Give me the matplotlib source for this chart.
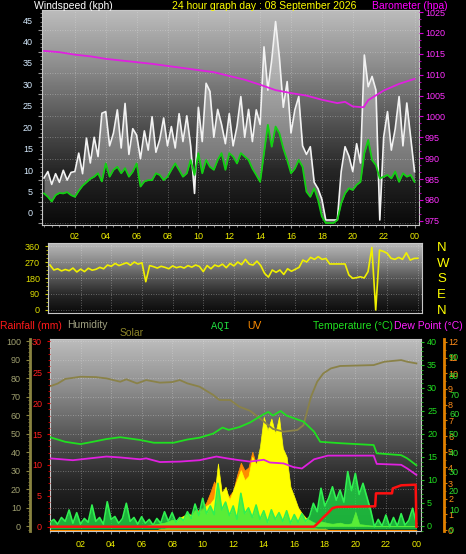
import numpy as np
import matplotlib.pyplot as plt
import matplotlib.transforms as mtransforms
from matplotlib.colors import LinearSegmentedColormap
from matplotlib.ticker import MultipleLocator

plt.rcParams['font.family'] = ['Liberation Sans', 'DejaVu Sans']

# ---- values ----
t15 = np.linspace(0, 24, 97)   # 15 minute steps through the day

wind_gust = [10.5, 12.0, 9.0, 11.5,  9.5, 12.3, 10.0, 11.8,  12.0, 16.3, 11.5, 19.8,
             14.0, 20.0, 15.5, 25.6,  26.0, 18.0, 21.0, 26.4,  17.5, 27.9, 16.0, 22.0,
             20.5, 15.0, 21.5, 17.0,  24.8, 16.5, 19.5, 24.5,  18.0, 22.5, 17.5, 25.5,
             19.0, 25.0, 18.0, 6.9,  27.0, 19.0, 32.6, 30.7,  20.0, 26.5, 23.0, 18.5,
             25.5, 18.0, 22.5, 29.5,  20.0, 26.5, 19.0, 26.4,  23.0, 41.1, 31.0, 38.0,
             47.0, 38.5, 27.0, 33.0,  21.0, 26.4, 29.5, 18.0,  16.0, 17.8, 9.5, 8.0,
             5.5, 0.7, 0.7, 0.7,  0.7, 12.0, 17.8, 15.6,  12.0, 18.5, 14.0, 39.2,
             31.8, 34.2, 31.0, 0.7,  20.0, 26.0, 17.0, 22.0,  29.5, 18.0, 28.0, 20.0,
             12.0]
wind_avg = [6.9, 6.1, 5.0, 6.5,  7.0, 6.9, 7.2, 6.5,  6.1, 7.5, 8.7, 9.5,
            10.3, 10.8, 11.6, 9.7,  13.9, 10.8, 12.4, 13.1,  11.6, 12.8, 10.8, 12.0,
            13.9, 8.5, 9.7, 10.0,  10.0, 11.6, 11.2, 10.0,  10.8, 12.4, 13.9, 12.4,
            10.8, 11.6, 14.7, 11.2,  16.3, 11.6, 14.7, 13.1,  12.4, 14.7, 16.3, 12.4,
            16.3, 15.5, 13.9, 16.3,  15.5, 14.7, 12.7, 11.2,  9.6, 16.3, 22.9, 17.8,
            22.5, 20.9, 17.4, 14.7,  11.6, 12.7, 14.7, 13.1,  7.3, 6.1, 8.1, 5.4,
            1.5, 0.0, 0.0, 0.0,  0.7, 4.6, 6.9, 8.1,  7.7, 8.9, 9.6, 16.3,
            19.4, 14.7, 13.5, 10.4,  10.8, 11.2, 10.4, 12.0,  9.6, 11.6, 10.8, 11.2,
            9.6]

baro_h = [0, 1, 2, 3, 4, 5, 6, 7, 8, 9, 10, 11, 12, 13, 14, 15, 16, 17, 18, 19,
          19.5, 20, 20.7, 21, 22, 23, 24]
baro = [1015.7, 1015.4, 1014.8, 1014.4, 1013.8, 1013.4, 1013.0, 1012.6, 1012.1,
        1011.6, 1011.1, 1010.6, 1009.7, 1008.8, 1007.6, 1006.3, 1005.6, 1005.0,
        1004.0, 1003.2, 1003.5, 1002.4, 1002.2, 1003.9, 1006.2, 1007.8, 1009.0]

wind_dir = [253, 225, 232, 220,  228, 221, 236, 214,  230, 216, 235, 224,
            229, 240, 232, 253,  246, 262, 250, 258,  266, 252, 270, 258,
            266, 159, 250, 244,  236, 246, 240, 232,  248, 238, 244, 236,
            250, 241, 253, 245,  216, 250, 232, 253,  245, 258, 238, 262,
            248, 270, 255, 285,  258, 253, 275, 250,  206, 185, 225, 212,
            225, 200, 232, 218,  229, 240, 281, 270,  296, 285, 300, 285,
            290, 259, 259, 259,  259, 259, 197, 178,  182, 187, 180, 216,
            352, 0, 337, 330,  319, 291, 285, 296,  285, 322, 281, 290,
            291]

hum_h = [0, 0.5, 1, 2, 3, 3.7, 4.6, 5, 5.7, 6.3, 7.2, 8, 8.5, 9, 9.8, 10.7, 11.1,
         11.8, 12.4, 13.1, 13.8, 14.6, 15.3, 16.2, 16.6, 17.1, 17.5, 17.9, 18.4, 19,
         21.2, 21.9, 23, 23.4, 24]
hum = [75.5, 77.0, 79.5, 80.7, 80.5, 79.8, 78.0, 79.3, 77.1, 78.9, 77.5, 77.8, 78.9,
       77.1, 75.3, 70.8, 68.1, 68.1, 64.5, 62.3, 57.8, 52.5, 51.0, 51.9, 54.5, 70.0,
       78.0, 82.5, 85.2, 86.5, 87.0, 88.8, 89.7, 88.8, 87.9]

temp_h = [0, 1, 2, 2.8, 3.7, 4.6, 5.9, 6.8, 8.1, 9, 9.8, 10.7, 11.3, 11.7, 12.4, 13.1,
          14.0, 14.3, 14.6, 15.1, 15.5, 16.0, 16.6, 17.3, 17.7, 19.0, 21.2, 21.4, 23.0,
          23.4, 24]
temp = [19.3, 18.3, 17.8, 18.3, 18.9, 19.3, 18.7, 18.1, 18.1, 18.8, 19.2, 20.1, 21.4,
        20.9, 21.5, 22.5, 24.3, 24.8, 24.0, 25.0, 24.0, 23.4, 22.7, 20.5, 18.3, 18.0,
        17.6, 15.8, 15.4, 14.7, 13.2]

dew_h = [0, 1.5, 3.7, 4.6, 5.9, 6.3, 7.2, 8.5, 9.8, 10.9, 11.6, 12.4, 13.1, 14.0, 14.4,
         15.3, 15.95, 16.5, 17.3, 18.2, 21.2, 21.4, 23.0, 23.4, 24]
dew = [14.7, 14.3, 15.1, 14.9, 14.5, 14.7, 13.9, 14.0, 14.3, 15.1, 14.7, 14.3, 14.0,
       14.4, 13.8, 13.6, 12.8, 12.5, 14.5, 15.3, 15.3, 13.5, 13.3, 12.5, 11.1]

rain_h = [0, 17.3, 17.6, 17.9, 18.2, 18.5, 18.8, 21.3, 21.35, 22.4, 22.45, 23.0, 23.95, 24.0]
rain = [0, 0, 0.7, 1.5, 2.2, 3.0, 3.2, 3.3, 5.4, 5.4, 6.2, 6.7, 6.8, 0]

aqi = [3.5, 5.0, 2.5, 6.0,  4.0, 9.9, 3.0, 8.5,  2.5, 5.5, 3.5, 12.5,
       4.0, 6.0, 2.5, 14.2,  5.0, 6.5, 3.0, 5.5,  13.4, 4.0, 6.0, 2.5,
       6.4, 3.0, 5.0, 2.0,  5.5, 3.0, 9.0, 4.0,  8.5, 3.5, 6.0, 4.5,
       9.0, 5.5, 13.0, 7.0,  16.0, 8.0, 12.0, 7.5,  23.8, 10.0, 14.0, 7.0,
       12.0, 5.0, 18.6, 8.0,  11.0, 6.0, 12.5, 5.0,  9.5, 3.5, 10.0, 5.0,
       8.5, 4.0, 9.5, 3.0,  7.5, 3.5, 8.0, 4.0,  6.5, 13.4, 9.0, 21.2,
       12.0, 16.0, 22.0, 15.0,  20.3, 14.0, 29.9, 20.0,  29.0, 18.0, 23.8, 16.8,
       9.9, 1.2, 5.0, 1.5,  7.3, 1.2, 6.0, 1.5,  8.0, 2.0, 4.5, 10.8,
       3.0]

solar = [0] * 24 + [0, 0, 5, 8,  10, 15, 18, 25,  35, 30, 45, 55,  68, 60, 86, 75,
                    90, 110, 122, 150,  338, 180, 212, 140,  194, 250, 302, 248,
                    270, 374, 330, 428,  590, 518, 581, 500,  590, 420, 374, 212,
                    158, 100, 68, 45,  32, 20, 14, 25,  20, 15, 12, 15,
                    18, 12, 10, 15,  77, 10, 8, 5,  3, 2, 0, 0] + [0] * 9

uv = [0] * 28 + [0, 0.1, 0.1, 0.2,  0.3, 0.4, 0.5, 0.6,  0.8, 0.9, 1.1, 1.3,
                 1.4, 1.8, 2.4, 3.1,  2.6, 2.0, 1.8, 2.2,  2.5, 3.5, 4.3, 3.8,
                 4.0, 5.0, 4.2, 4.8,  4.5, 4.0, 4.4, 4.2,  4.0, 3.5, 2.2, 1.6,
                 1.3, 0.9, 0.6, 0.4,  0.3, 0.2, 0.1, 0.1,  0.1, 0, 0, 0] + [0] * 21

hour_ticks = [2, 4, 6, 8, 10, 12, 14, 16, 18, 20, 22, 24]
hour_labels = ['02', '04', '06', '08', '10', '12', '14', '16', '18', '20', '22', '00']
compass_deg = [0, 90, 180, 270, 360]
compass_lbl = ['N', 'E', 'S', 'W', 'N']

# ---- figure ----
W, H = 466, 554
fig = plt.figure(figsize=(W / 100, H / 100), dpi=100, facecolor='black')


def box(l, t, r, b):
    return [l / W, 1 - b / H, (r - l) / W, (b - t) / H]


bg = LinearSegmentedColormap.from_list(
    'bg', ['#0a0a0a', '#262626', '#575757', '#8e8e8e', '#bcbcbc'])
grid_kw = dict(color='#e6e6e6', linestyle=(0, (1, 2)), linewidth=0.6, alpha=0.45)


def backdrop(ax):
    grad = np.linspace(0, 1, 200).reshape(-1, 1)
    ax.imshow(grad, extent=[0, 1, 0, 1], transform=ax.transAxes, origin='lower',
              cmap=bg, aspect='auto', zorder=0)
    ax.set_facecolor('black')
    for s in ax.spines.values():
        s.set_color('#c8c8c8')
        s.set_linewidth(0.8)


def twin(ax):
    t = ax.twinx()
    for s in t.spines.values():
        s.set_visible(False)
    return t


# top panel: wind speed + barometer
ax_w = fig.add_axes(box(42, 10, 419, 225))
backdrop(ax_w)
ax_w.fill_between(t15, wind_avg, wind_gust, color='white', alpha=0.35, lw=0, zorder=2)
ax_w.plot(t15, wind_gust, color='#f2f2f2', lw=1.2, zorder=3)
ax_w.plot(t15, wind_avg, color='#12d012', lw=1.3, zorder=4)
ax_w.set_xlim(-0.13, 24.29)
ax_w.set_ylim(-0.47, 49.7)
ax_w.set_xticks(hour_ticks)
ax_w.set_xticklabels(hour_labels)
ax_w.xaxis.set_minor_locator(MultipleLocator(0.5))
ax_w.set_yticks(range(0, 46, 5))
ax_w.yaxis.set_minor_locator(MultipleLocator(1))
ax_w.grid(True, which='major', **grid_kw)

ax_b = twin(ax_w)
ax_b.plot(baro_h, baro, color='#e020e0', lw=1.3)
ax_b.set_ylim(974.0, 1025.5)
ax_b.set_yticks(range(975, 1026, 5))
ax_b.yaxis.set_minor_locator(MultipleLocator(5 / 3))
ax_b.tick_params(axis='y', which='both', colors='#d000d0', labelcolor='#ff30ff',
                 labelsize=6.5, length=2.9, pad=1.4)
ax_b.tick_params(axis='y', which='minor', length=1.5)

ax_w.tick_params(axis='x', which='both', colors='#909090', labelcolor='#f0f000',
                 labelsize=6.5, length=2.2, pad=2.9)
ax_w.tick_params(axis='x', which='minor', length=1.5)
ax_w.tick_params(axis='y', which='both', colors='#909090', labelcolor='#d6ebff',
                 labelsize=6.5, length=2.9, pad=3.6)
ax_w.tick_params(axis='y', which='minor', length=1.5)
shift = mtransforms.ScaledTranslation(0, 0.10, fig.dpi_scale_trans)
for lbl in ax_w.get_yticklabels():
    lbl.set_transform(lbl.get_transform() + shift)

# middle panel: wind direction
ax_d = fig.add_axes(box(48, 243, 422, 313))
backdrop(ax_d)
ax_d.plot(t15, wind_dir, color='#f0f000', lw=1.2, zorder=3)
ax_d.set_xlim(-0.13, 24.27)
ax_d.set_ylim(-17, 377)
ax_d.set_xticks(hour_ticks)
ax_d.tick_params(axis='x', labelbottom=False, length=0)
ax_d.set_yticks(compass_deg)
ax_d.yaxis.set_minor_locator(MultipleLocator(22.5))
ax_d.grid(True, which='major', **grid_kw)

ax_c = twin(ax_d)
ax_c.set_ylim(-17, 377)
ax_c.set_yticks(compass_deg)
ax_c.set_yticklabels(compass_lbl)
ax_c.tick_params(axis='y', length=0, pad=10.8, labelsize=9.5, labelcolor='#ffff00')
ax_d.tick_params(axis='y', which='both', colors='#c8c800', labelcolor='#e0e000',
                 labelsize=6.5, length=2.2, pad=3.6)
ax_d.tick_params(axis='y', which='minor', length=1.5)

# bottom panel: rain, humidity, solar, AQI, UV, temperature, dew point
ax_bg = fig.add_axes(box(50, 339, 421, 531))
backdrop(ax_bg)
ax_bg.set_xlim(0, 24.3)
ax_bg.set_ylim(-2.7, 101.1)
ax_bg.set_yticks(range(0, 101, 10))
ax_bg.set_xticks(hour_ticks)
ax_bg.set_xticklabels(hour_labels)
ax_bg.xaxis.set_minor_locator(MultipleLocator(0.5))
ax_bg.grid(True, which='major', **grid_kw)

ax_uv = twin(ax_bg)
ax_uv.fill_between(t15, uv, color='#ff8c00', lw=0.5)
ax_uv.set_ylim(-0.06, 12.19)
ax_uv.spines['right'].set_visible(True)
ax_uv.spines['right'].set_position(('outward', 16.6))
ax_uv.spines['right'].set_color('#e08000')
ax_uv.spines['right'].set_linewidth(2)
ax_uv.set_yticks(range(13))
ax_uv.yaxis.set_minor_locator(MultipleLocator(0.5))
ax_uv.tick_params(axis='y', which='both', colors='#e08000', labelcolor='#ff8c1a',
                  labelsize=6.5, length=2.2, pad=0.7)
ax_uv.tick_params(axis='y', which='minor', length=1.2)

ax_sol = twin(ax_bg)
ax_sol.fill_between(t15, solar, color='#ffff00', lw=0.5)
ax_sol.set_ylim(-27, 1011)
ax_sol.set_yticks([])

ax_aqi = twin(ax_bg)
ax_aqi.fill_between(t15, aqi, color='#22e84a', alpha=0.75, lw=0)
ax_aqi.plot(t15, aqi, color='#30f050', lw=1.2)
ax_aqi.set_ylim(-1.04, 98.96)
ax_aqi.spines['right'].set_position(('outward', 16.6))
ax_aqi.set_yticks(range(0, 91, 10))
ax_aqi.tick_params(axis='y', length=0, pad=3.6, labelsize=6.5, labelcolor='#30e030')

ax_hum = twin(ax_bg)
ax_hum.plot(hum_h, hum, color='#8a8248', lw=1.3)
ax_hum.set_ylim(-2.7, 101.1)
ax_hum.yaxis.set_ticks_position('left')
ax_hum.spines['left'].set_visible(True)
ax_hum.spines['left'].set_position(('outward', 14.4))
ax_hum.spines['left'].set_color('#8a8440')
ax_hum.spines['left'].set_linewidth(2)
ax_hum.set_yticks(range(0, 101, 10))
ax_hum.yaxis.set_minor_locator(MultipleLocator(2))
ax_hum.tick_params(axis='y', which='both', colors='#8a8440', labelcolor='#a0a070',
                   labelsize=6.5, length=2.9, pad=3.6)
ax_hum.tick_params(axis='y', which='minor', length=1.5)

ax_tmp = twin(ax_bg)
ax_tmp.plot(temp_h, temp, color='#20e020', lw=1.3)
ax_tmp.plot(dew_h, dew, color='#e020e0', lw=1.3)
ax_tmp.set_ylim(-1.09, 40.65)
ax_tmp.set_yticks(range(0, 41, 5))
ax_tmp.yaxis.set_minor_locator(MultipleLocator(1))
ax_tmp.tick_params(axis='y', which='both', colors='#20c020', labelcolor='#20e020',
                   labelsize=6.5, length=2.2, pad=2.2)
ax_tmp.tick_params(axis='y', which='minor', length=1.2)

ax_rain = twin(ax_bg)
ax_rain.plot(rain_h, rain, color='#ff1010', lw=1.8)
ax_rain.set_ylim(-0.7, 30.4)
ax_rain.yaxis.set_ticks_position('left')
ax_rain.set_yticks(range(0, 31, 5))
ax_rain.yaxis.set_minor_locator(MultipleLocator(1))
ax_rain.tick_params(axis='y', which='both', colors='#e00000', labelcolor='#ff2020',
                    labelsize=6.5, length=2.5, pad=3.2)
ax_rain.tick_params(axis='y', which='minor', length=1.2)

ax_bg.tick_params(axis='y', left=False, labelleft=False, right=False, labelright=False)
ax_bg.tick_params(axis='x', which='both', colors='#909090', labelcolor='#f0f000',
                  labelsize=6.5, length=2.2, pad=4.3)
ax_bg.tick_params(axis='x', which='minor', length=1.5)

# titles and legend texts
def label(x, y, s, c, **kw):
    fig.text(x / W, 1 - y / H, s, color=c, fontsize=7.5, va='center', ha='left', **kw)


label(34, 6, 'Windspeed (kph)', 'white')
label(172, 6, '24 hour graph day : 08 September 2026', '#ffff00')
label(372, 6, 'Barometer (hpa)', '#ff00ff')
label(0, 326, 'Rainfall (mm)', '#ff1a1a')
label(67, 325, 'Humidity', '#a0a080')
label(120, 333, 'Solar', '#8c8428')
label(211, 326, 'AQI', '#20e040', family='Liberation Mono')
label(247, 326, 'UV', '#ff8c00')
label(313, 326, 'Temperature (°C)', '#20e020')
label(394, 326, 'Dew Point (°C)', '#ff20ff')

fig.savefig('out.png', dpi=100, facecolor='black')
